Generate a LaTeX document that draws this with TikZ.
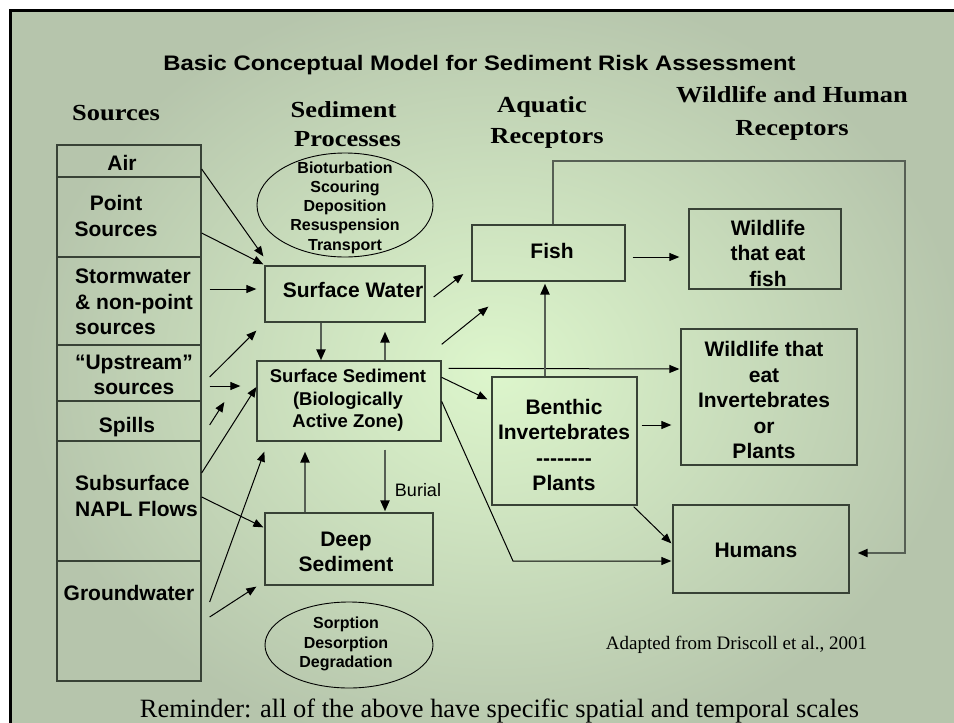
\documentclass[tikz,border=0pt]{standalone}
\usepackage{fontspec}
\setmainfont{Liberation Serif}
\setsansfont{Liberation Sans}
\usetikzlibrary{arrows.meta,calc,shapes.geometric}

\definecolor{bgin}{HTML}{DDF6CC}
\definecolor{bgout}{HTML}{B6C5AC}
\definecolor{boxline}{HTML}{384236}
\definecolor{thickgray}{HTML}{565F54}

\newcommand{\hdash}{-\kern0pt-\kern0pt-\kern0pt-\kern0pt-\kern0pt-\kern0pt-\kern0pt-}

\tikzset{
  shapebox/.style={draw=boxline, line width=1.3pt, rectangle, inner sep=0pt},
  srcbox/.style={shapebox, minimum width=144pt},
  oval/.style={draw=black, line width=0.9pt, ellipse, inner sep=0pt},
  lbl/.style={font=\sffamily\bfseries\fontsize{21}{25.5}\selectfont, inner sep=0pt, align=center},
  lblsmall/.style={font=\sffamily\bfseries\fontsize{16}{19.3}\selectfont, inner sep=0pt, align=center},
  lblmid/.style={font=\sffamily\bfseries\fontsize{18.5}{22.5}\selectfont, inner sep=0pt, align=center},
  header/.style={font=\rmfamily\bfseries\fontsize{23}{30}\selectfont, inner sep=0pt},
  arr/.style={-{Triangle[length=10pt,width=8pt]}, line width=1pt, draw=black},
  thickarr/.style={-{Triangle[length=11pt,width=9pt,color=black]}, line width=2.2pt, draw=thickgray},
}

\begin{document}
\begin{tikzpicture}[x=1pt,y=-1pt]
\useasboundingbox (0,0) rectangle (954,723);
\fill[white] (0,0) rectangle (954,723);
\begin{scope}
  \clip (10,11) rectangle (954,723);
  \fill[bgout] (10,11) rectangle (954,723);
  \shade[inner color=bgin, outer color=bgout] (495,370) ellipse (470 and 390);
\end{scope}
\draw[line width=2.6pt] (10.2,723) -- (10.2,10.7) -- (954,10.7);

% title and headers
\node[font=\sffamily\bfseries\fontsize{21}{25}\selectfont, inner sep=0pt, anchor=base] (title) at (479.5,70) {\scalebox{1.136}[1]{Basic Conceptual Model for Sediment Risk Assessment}};
\node[header, anchor=base] (hsrc) at (116,120) {\scalebox{1.15}[1]{Sources}};
\node[header, anchor=base] (hsed1) at (343.5,117) {\scalebox{1.15}[1]{Sediment}};
\node[header, anchor=base] (hsed2) at (347.5,146) {\scalebox{1.15}[1]{Processes}};
\node[header, anchor=base] (haq1) at (542,112) {\scalebox{1.15}[1]{Aquatic}};
\node[header, anchor=base] (haq2) at (547,143) {\scalebox{1.15}[1]{Receptors}};
\node[header, anchor=base] (hwl1) at (792,102) {\scalebox{1.15}[1]{Wildlife and Human}};
\node[header, anchor=base] (hwl2) at (792,135) {\scalebox{1.15}[1]{Receptors}};

% sources column
\node[srcbox, minimum height=32pt] (air) at (129,161) {};
\node[srcbox, minimum height=80pt] (point) at (129,217) {};
\node[srcbox, minimum height=88pt] (storm) at (129,301) {};
\node[srcbox, minimum height=56pt] (up) at (129,373) {};
\node[srcbox, minimum height=40pt] (spills) at (129,421) {};
\node[srcbox, minimum height=120pt] (subs) at (129,501) {};
\node[srcbox, minimum height=120pt] (gw) at (129,621) {};

\node[lbl] (airt) at (122,163) {Air};
\node[lbl] (pointt) at (116,216) {Point\\Sources};
\node[lbl, anchor=west, align=left] (stormt) at (75,302) {Stormwater\\\& non-point\\sources};
\node[lbl] (upt) at (134,375) {“Upstream”\\sources};
\node[lbl] (spillst) at (127,427) {Spills};
\node[lbl, anchor=west, align=left] (subst) at (75,496) {Subsurface\\NAPL Flows};
\node[lbl] (gwt) at (129,593) {Groundwater};

% sediment processes column
\node[oval, minimum width=176pt, minimum height=104pt] (procs) at (345,205) {};
\node[lblsmall] (procst) at (345,207.5) {Bioturbation\\Scouring\\Deposition\\Resuspension\\Transport};
\node[shapebox, minimum width=160pt, minimum height=56pt] (sw) at (345,294) {};
\node[lbl] (swt) at (353,290) {Surface Water};
\node[shapebox, minimum width=184pt, minimum height=80pt] (ss) at (349,401) {};
\node[lblmid] (sst) at (348,400.5) {Surface Sediment\\(Biologically\\Active Zone)};
\node[shapebox, minimum width=168pt, minimum height=72pt] (deep) at (349,549) {};
\node[lbl] (deept) at (346,552) {Deep\\Sediment};
\node[oval, minimum width=168pt, minimum height=86pt] (sorp) at (349,645) {};
\node[lblsmall] (sorpt) at (346,644) {Sorption\\Desorption\\Degradation};
\node[font=\sffamily\fontsize{18}{22}\selectfont, inner sep=0pt] (burial) at (418,490) {Burial};

% receptors
\node[shapebox, minimum width=153pt, minimum height=56pt] (fish) at (548.5,253) {};
\node[lbl] (fisht) at (552,251) {Fish};
\node[shapebox, minimum width=145pt, minimum height=128pt] (benth) at (564.5,441) {};
\node[lbl] (bentht) at (564,445) {Benthic\\Invertebrates\\\hdash\\Plants};
\node[shapebox, minimum width=152pt, minimum height=80pt] (wfish) at (765,249) {};
\node[lbl] (wfisht) at (768,253) {Wildlife\\that eat\\fish};
\node[shapebox, minimum width=176pt, minimum height=136pt] (winv) at (769,397) {};
\node[lbl] (winvt) at (764,400) {Wildlife that\\eat\\Invertebrates\\or\\Plants};
\node[shapebox, minimum width=176pt, minimum height=88pt] (hum) at (761,549) {};
\node[lbl] (humt) at (756,550) {Humans};

\node[font=\rmfamily\fontsize{19}{22}\selectfont, inner sep=0pt, anchor=base] (adapt) at (736.5,649.3) {Adapted from Driscoll et al., 2001};
\node[font=\rmfamily\fontsize{26.4}{30}\selectfont, inner sep=0pt, anchor=base] (remind) at (499.5,717) {Reminder: all of the above have specific spatial and temporal scales};

% source arrows
\draw[arr] ($(air.east)+(0,8)$) -- ($(sw.north west)+(-1,-9)$);
\draw[arr] ($(point.east)+(0,16)$) -- ($(sw.north west)+(-1,-1)$);
\draw[arr] ($(storm.east)+(8,-12)$) -- ($(sw.west)+(-8,-5)$);
\draw[arr] ($(up.east)+(8,4)$) -- ($(sw.south west)+(-8,8)$);
\draw[arr] ($(up.east)+(8,13)$) -- ($(ss.west)+(-16,-15)$);
\draw[arr] ($(spills.east)+(8,4)$) -- ($(ss.west)+(-32,1)$);
\draw[arr] ($(subs.east)+(0,-28)$) -- ($(ss.west)+(0,-14)$);
\draw[arr] ($(subs.east)+(0,-4)$) -- ($(deep.north west)+(-1,15)$);
\draw[arr] ($(gw.east)+(8,-19)$) -- ($(ss.south west)+(8,10)$);
\draw[arr] ($(gw.east)+(8,-4)$) -- ($(deep.south west)+(-8,1)$);

% sediment column arrows
\draw[thickarr] ($(sw.south)+(-24,0)$) -- ($(ss.north)+(-28,0)$);
\draw[thickarr] ($(ss.north)+(36,0)$) -- ($(sw.south)+(40,9)$);
\draw[thickarr] ($(deep.north)+(-44,0)$) -- ($(ss.south)+(-44,10)$);
\draw[thickarr] ($(ss.south)+(36,8)$) -- ($(deep.north)+(36,-1)$);

% to receptors
\draw[arr] ($(sw.east)+(8,3)$) -- ($(fish.west)+(-8,21)$);
\draw[arr] ($(ss.north east)+(0,-16)$) -- ($(fish.south west)+(17,25)$);
\draw[arr] ($(ss.north east)+(7,8)$) -- ($(winv.west)+(-1,-28)$);
\draw[arr] ($(ss.north east)+(0,17)$) -- ($(benth.north west)+(-4,23)$);
\coordinate (bend) at (513,561);
\draw[arr] ($(ss.north east)+(0,41)$) -- (bend) -- ($(hum.west)+(-1,12)$);
\draw[thickarr] ($(benth.north)+(-19.5,0)$) -- ($(fish.south)+(-3.5,2)$);
\draw[arr] ($(fish.east)+(7,4)$) -- ($(wfish.west)+(-9,8)$);
\draw[arr] ($(benth.east)+(4,-16)$) -- ($(winv.west)+(-9,28)$);
\draw[arr] ($(benth.south east)+(-4,1)$) -- ($(hum.north west)+(-1,39)$);
\coordinate (loopr) at (905,161);
\draw[line width=2pt, draw=thickgray, -{Triangle[length=10pt,width=8pt,color=black]}] ($(fish.north)+(4.5,0)$) |- (loopr) |- ($(hum.east)+(8,4)$);
\end{tikzpicture}
\end{document}
